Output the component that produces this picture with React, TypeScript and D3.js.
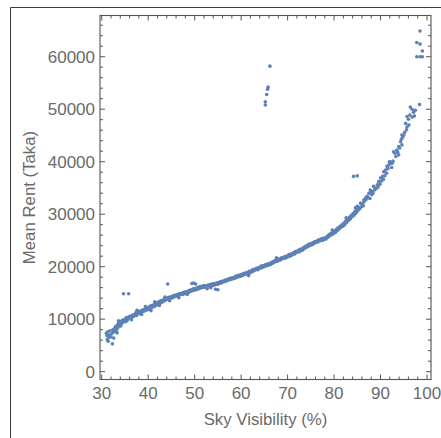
import React from 'react';
import * as d3 from 'd3';

// Sky visibility (%) vs mean rent (Taka)
const lowBand: [number, number][] = [
  [31.0, 7300], [31.1, 6900], [31.2, 6100], [31.3, 7600], [31.4, 5800], [31.5, 6500], [31.6, 7000], [31.8, 7800],
  [32.0, 6600], [32.1, 7200], [32.3, 5300], [32.4, 8000], [32.5, 7500], [32.6, 6400], [32.8, 8300], [32.9, 7700],
  [33.0, 8600], [33.2, 8000], [33.4, 9000], [33.5, 8400], [33.7, 9300], [33.9, 8800], [33.3, 7400], [33.6, 9700],
  [34.0, 9500], [34.2, 9100], [34.4, 9800], [34.6, 9400], [34.8, 9900], [34.1, 8700],
  [35.0, 10000], [35.3, 10300], [35.5, 9800], [35.7, 10200], [35.9, 10500], [35.2, 9500],
  [36.1, 10200], [36.3, 10600], [36.5, 10400], [36.7, 10800], [36.9, 10500], [36.4, 9900],
  [37.1, 10900], [37.3, 11200], [37.5, 10700], [37.7, 11100], [37.9, 11500], [37.6, 11700],
  [38.1, 11300], [38.3, 11000], [38.5, 11600], [38.7, 11400], [38.9, 11800], [38.6, 10900],
  [39.1, 11500], [39.3, 11900], [39.5, 11700], [39.7, 12200], [39.9, 11800], [39.4, 12400],
  [40.1, 12100], [40.3, 12400], [40.5, 11900], [40.7, 12600], [40.9, 12300], [40.6, 11600],
  [41.1, 12700], [41.3, 12400], [41.5, 12900], [41.7, 12600], [41.9, 13100], [41.4, 13300],
  [42.1, 12900], [42.3, 13300], [42.5, 13000], [42.7, 13500], [42.9, 13200], [42.4, 12600],
  [43.1, 13600], [43.3, 13400], [43.5, 13800], [43.7, 13600], [43.9, 14000], [43.6, 14200],
  [44.1, 13800], [44.3, 14100], [44.5, 13900], [44.7, 14200], [44.9, 14000], [44.6, 13500],
  [45.1, 14300], [45.3, 14100], [45.5, 14500], [45.7, 14300], [45.9, 14600],
  [46.1, 14400], [46.3, 14700], [46.5, 14500], [46.7, 14900], [46.9, 14700], [46.6, 14100],
  [47.1, 14800], [47.3, 15000], [47.5, 14700], [47.7, 15100], [47.9, 14900],
  [48.1, 15200], [48.3, 15000], [48.5, 15300], [48.7, 15100], [48.9, 15500], [48.4, 14700],
  [49.1, 15300], [49.3, 15600], [49.5, 15400], [49.7, 15800], [49.9, 15500],
  [49.4, 16800], [49.8, 16900], [50.2, 16700],
];

const midBand: [number, number][] = [
  [50.1, 15800], [50.3, 15600], [50.5, 16000], [50.7, 15700], [50.9, 16100],
  [51.1, 15900], [51.3, 16200], [51.5, 16000], [51.7, 16300], [51.9, 16100],
  [52.1, 16400], [52.3, 16100], [52.5, 16300], [52.7, 15800], [52.9, 16500],
  [53.1, 16300], [53.3, 16600], [53.5, 16000], [53.7, 16700], [53.9, 16400],
  [54.1, 16800], [54.3, 16500], [54.5, 15700], [54.7, 16900], [54.9, 16600], [55.0, 15600],
  [55.1, 17000], [55.3, 16800], [55.5, 17100], [55.7, 16900], [55.9, 17200],
  [56.1, 17100], [56.3, 17300], [56.5, 17200], [56.7, 17500], [56.9, 17300],
  [57.1, 17400], [57.3, 17700], [57.5, 17500], [57.7, 17800], [57.9, 17600],
  [58.1, 17900], [58.3, 17700], [58.5, 18000], [58.7, 17800], [58.9, 18200],
  [59.1, 18000], [59.3, 18300], [59.5, 18100], [59.7, 18400], [59.9, 18200],
  [60.1, 18500], [60.3, 18300], [60.5, 18700], [60.7, 18500], [60.9, 18800],
  [61.1, 18600], [61.3, 18900], [61.5, 18700], [61.6, 18300], [61.7, 19100], [61.9, 18800],
  [62.1, 19000], [62.3, 19300], [62.5, 19100], [62.7, 19500], [62.9, 19300],
  [63.1, 19500], [63.3, 19700], [63.5, 19400], [63.7, 19800], [63.9, 19600],
  [64.1, 19900], [64.3, 20100], [64.5, 19800], [64.7, 20200], [64.9, 20000],
  [65.1, 20100], [65.3, 20400], [65.5, 20200], [65.7, 20500], [65.9, 20300],
  [66.1, 20600], [66.3, 20400], [66.5, 20800], [66.7, 20600], [66.9, 21000],
  [67.1, 20800], [67.3, 21100], [67.5, 21300], [67.7, 21000], [67.9, 21400], [67.6, 21700],
  [68.1, 21200], [68.3, 21500], [68.5, 21300], [68.7, 21700], [68.9, 21500],
  [69.1, 21700], [69.3, 21900], [69.5, 21600], [69.7, 22000], [69.9, 21800],
  [70.1, 22100], [70.3, 22300], [70.5, 22000], [70.7, 22400], [70.9, 22200],
  [71.1, 22500], [71.3, 22700], [71.5, 22400], [71.7, 22900], [71.9, 22700],
  [72.1, 22900], [72.3, 23100], [72.5, 22800], [72.7, 23300], [72.9, 23100],
  [73.1, 23400], [73.3, 23200], [73.5, 23700], [73.7, 23500], [73.9, 23900],
  [74.1, 23700], [74.3, 24100], [74.5, 23900], [74.7, 24300], [74.9, 24100],
  [75.1, 24400], [75.3, 24200], [75.5, 24600], [75.7, 24400], [75.9, 24800],
  [76.1, 24600], [76.3, 24900], [76.5, 24700], [76.7, 25100], [76.9, 24900],
  [77.1, 25100], [77.3, 25300], [77.5, 25000], [77.7, 25400], [77.9, 25200],
  [78.1, 25500], [78.3, 25300], [78.5, 25800], [78.7, 25600], [78.9, 26100],
  [79.1, 25900], [79.3, 26300], [79.5, 26100], [79.7, 26600], [79.9, 26300], [79.6, 27000],
];

const highBand: [number, number][] = [
  [80.1, 26800], [80.3, 26500], [80.5, 27100], [80.7, 26900], [80.9, 27400],
  [81.1, 27200], [81.3, 27700], [81.5, 27500], [81.7, 28000], [81.9, 27700],
  [82.1, 28300], [82.3, 28000], [82.5, 28700], [82.7, 28400], [82.9, 29000], [82.6, 29300],
  [83.1, 28800], [83.3, 29400], [83.5, 29100], [83.7, 29800], [83.9, 29500],
  [84.1, 30100], [84.3, 29800], [84.5, 30500], [84.6, 31200], [84.7, 30200], [84.9, 30900],
  [85.0, 31500], [85.1, 30600], [85.3, 31300], [85.5, 31000], [85.7, 32100], [85.9, 31400],
  [86.1, 32000], [86.3, 31600], [86.4, 32700], [86.5, 32400], [86.8, 33100], [86.9, 32800],
  [87.1, 33400], [87.3, 33200], [87.5, 34000], [87.7, 33000], [87.8, 34600], [87.9, 34200],
  [88.1, 33700], [88.2, 34300], [88.5, 35300], [88.7, 34600], [88.9, 35000], [88.4, 34000],
  [89.1, 34900], [89.3, 35600], [89.5, 35200], [89.6, 36200], [89.9, 35700],
  [90.0, 36900], [90.2, 36300], [90.4, 37200], [90.6, 36600], [90.7, 38100], [90.9, 37300],
  [91.1, 38400], [91.3, 37800], [91.4, 39100], [91.6, 38700], [91.8, 39400], [91.9, 40000],
  [92.1, 40000], [92.3, 39700], [92.5, 39700], [92.7, 40100], [92.8, 41900], [92.4, 38900],
  [93.1, 41600], [93.3, 41000], [93.5, 42200], [93.7, 41800], [93.9, 42900], [93.9, 41300],
  [94.1, 42600], [94.3, 43800], [94.5, 44300], [94.6, 43200], [94.6, 45100], [94.8, 44700],
  [95.0, 45100], [95.2, 45600], [95.4, 47300], [95.6, 46100], [95.7, 46600], [95.7, 48600],
  [96.0, 48100], [96.1, 47000], [96.3, 48900], [96.4, 50400], [96.8, 48500], [96.8, 50000],
  [97.1, 49400], [97.3, 48700], [97.5, 49800], [98.4, 50900],
];

const outliers: [number, number][] = [
  [34.7, 14850], [35.8, 14850], [44.2, 16700],
  [84.2, 37200], [85.0, 37300],
  [65.2, 50800], [65.2, 51400], [65.5, 52800], [65.7, 53800], [65.8, 54200], [66.2, 58200],
  [97.8, 60000], [98.5, 60000], [99.0, 60000], [99.0, 61100],
  [97.8, 62700], [98.5, 62400], [98.5, 64900],
];

const xMajor = [30, 40, 50, 60, 70, 80, 90, 100];
const yMajor = [0, 10000, 20000, 30000, 40000, 50000, 60000];

const W = 441;
const H = 438;
const frame = { left: 100, right: 431, top: 15.5, bottom: 379.5 };
const axisColor = '#555';
const textColor = '#6a6a6a';
const pointColor = '#5e81b5';
const font = '"Liberation Sans", Arial, sans-serif';

export default function App(): React.ReactElement {
  const x = d3.scaleLinear().domain([29.63, 100.86]).range([frame.left, frame.right]);
  const y = d3.scaleLinear().domain([-1490, 67850]).range([frame.bottom, frame.top]);

  const xMinor = d3.range(30, 101, 2).filter((v) => v % 10 !== 0);
  const yMinor = d3.range(0, 66001, 2000).filter((v) => v % 10000 !== 0);

  const allPoints = [...lowBand, ...midBand, ...highBand, ...outliers];

  return (
    <svg
      width={W}
      height={H}
      style={{ position: 'absolute', left: 0, top: 0, background: '#fff' }}
      fontFamily={font}
    >
      {/* outer panel edge */}
      <path d={`M10.5,${H} V7.5 H${W}`} fill="none" stroke="#3a3a3a" strokeWidth={1} />

      {/* points */}
      <g fill={pointColor}>
        {allPoints.map(([vx, vy], i) => (
          <circle key={i} cx={x(vx)} cy={y(vy)} r={1.8} />
        ))}
      </g>

      {/* frame */}
      <rect
        x={frame.left}
        y={frame.top}
        width={frame.right - frame.left}
        height={frame.bottom - frame.top}
        fill="none"
        stroke={axisColor}
        strokeWidth={1.1}
      />

      {/* x ticks, bottom and top, pointing inward */}
      <g stroke={axisColor} strokeWidth={1}>
        {xMajor.map((v) => (
          <g key={`xM${v}`}>
            <line x1={x(v)} x2={x(v)} y1={frame.bottom} y2={frame.bottom - 5} />
            <line x1={x(v)} x2={x(v)} y1={frame.top} y2={frame.top + 5} />
          </g>
        ))}
        {xMinor.map((v) => (
          <g key={`xm${v}`}>
            <line x1={x(v)} x2={x(v)} y1={frame.bottom} y2={frame.bottom - 3} />
            <line x1={x(v)} x2={x(v)} y1={frame.top} y2={frame.top + 3} />
          </g>
        ))}
        {yMajor.map((v) => (
          <g key={`yM${v}`}>
            <line x1={frame.left} x2={frame.left + 5} y1={y(v)} y2={y(v)} />
            <line x1={frame.right} x2={frame.right - 5} y1={y(v)} y2={y(v)} />
          </g>
        ))}
        {yMinor.map((v) => (
          <g key={`ym${v}`}>
            <line x1={frame.left} x2={frame.left + 3} y1={y(v)} y2={y(v)} />
            <line x1={frame.right} x2={frame.right - 3} y1={y(v)} y2={y(v)} />
          </g>
        ))}
      </g>

      {/* tick labels */}
      <g fill={textColor} fontSize={17}>
        {xMajor.map((v) => (
          <text key={`xl${v}`} x={x(v)} y={398.5} textAnchor="middle">
            {v}
          </text>
        ))}
        {yMajor.map((v) => (
          <text key={`yl${v}`} x={frame.left - 5} y={y(v) + 6} textAnchor="end">
            {v}
          </text>
        ))}
      </g>

      {/* axis titles */}
      <text
        x={(frame.left + frame.right) / 2}
        y={425}
        textAnchor="middle"
        fontSize={16.8}
        fill={textColor}
      >
        Sky Visibility (%)
      </text>
      <text
        transform={`translate(35, ${(frame.top + frame.bottom) / 2}) rotate(-90)`}
        textAnchor="middle"
        fontSize={16.8}
        fill={textColor}
      >
        Mean Rent (Taka)
      </text>
    </svg>
  );
}
